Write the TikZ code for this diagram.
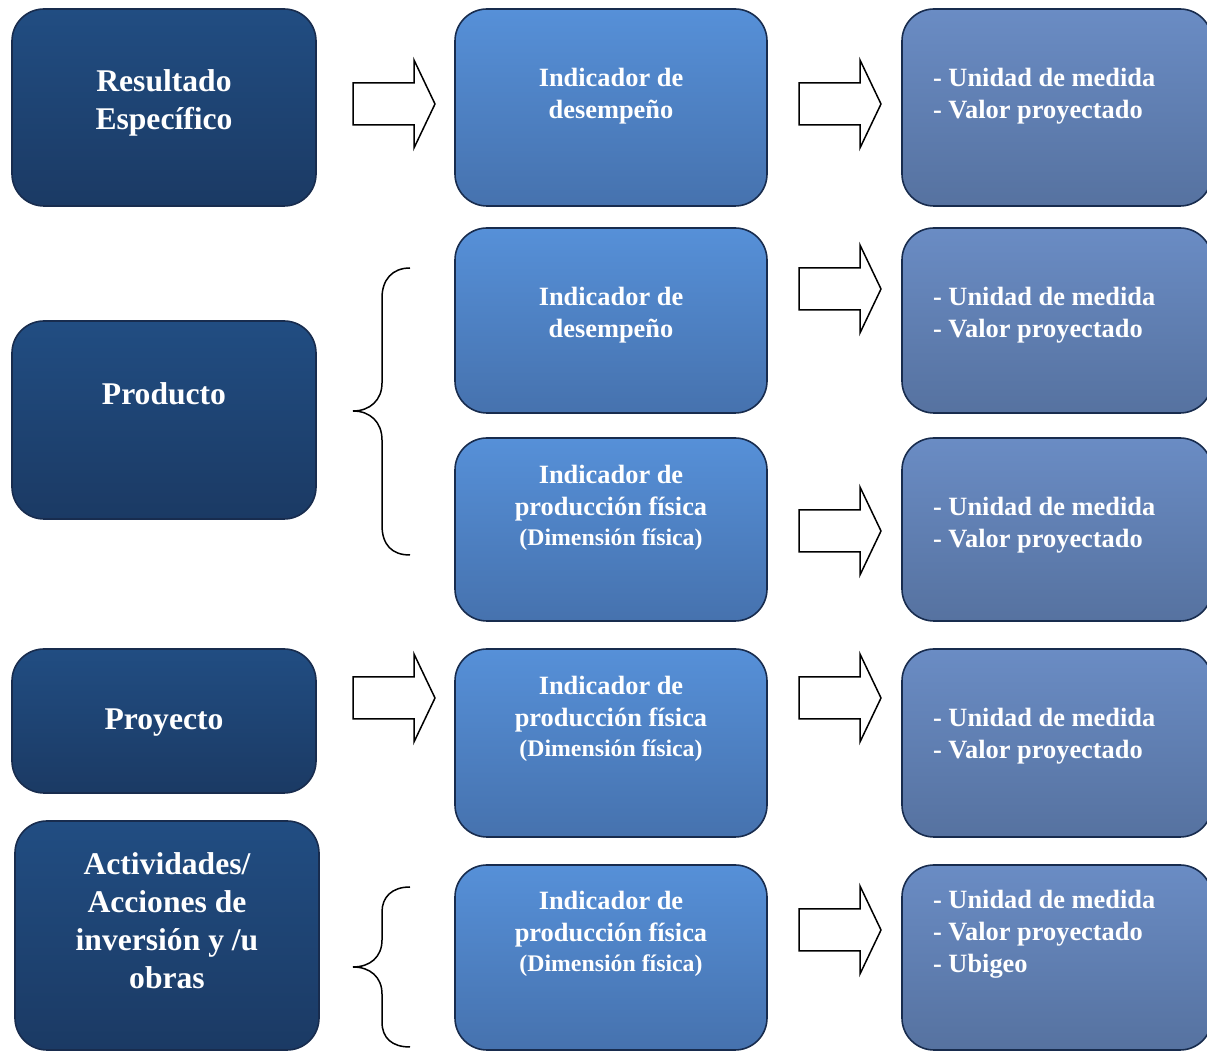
\documentclass[tikz,border=0pt]{standalone}
\usepackage{fontspec}
\setmainfont{Liberation Serif}
\definecolor{dkTop}{RGB}{33,77,130}
\definecolor{dkBot}{RGB}{27,58,100}
\definecolor{mdTop}{RGB}{86,144,216}
\definecolor{mdBot}{RGB}{70,114,174}
\definecolor{rtTop}{RGB}{106,140,196}
\definecolor{rtBot}{RGB}{86,114,160}
\definecolor{edge}{RGB}{24,44,78}
\begin{document}
\begin{tikzpicture}[x=0.5pt,y=-0.5pt,
  boxbase/.style={draw=edge, line width=0.8pt, rounded corners=16pt, inner sep=0pt},
  darkbox/.style={boxbase, top color=dkTop, bottom color=dkBot, minimum width=152pt},
  midbox/.style={boxbase, top color=mdTop, bottom color=mdBot, minimum width=156pt},
  rightbox/.style={boxbase, top color=rtTop, bottom color=rtBot, minimum width=155pt},
  bigtxt/.style={text=white, font=\fontsize{15.8pt}{19pt}\selectfont\bfseries, align=center},
  midtxt/.style={text=white, font=\fontsize{13.2pt}{16pt}\selectfont\bfseries, align=center},
  righttxt/.style={text=white, font=\fontsize{13.2pt}{16pt}\selectfont\bfseries, align=left, anchor=west},
  blockarr/.style={draw=black, fill=white, line width=0.75pt, line join=miter},
  bracestyle/.style={draw=black, line width=0.75pt}
]
\useasboundingbox (0,0) rectangle (1207,1052);
\clip (0,0) rectangle (1207,1052);
\newcommand\smalltxt[1]{{\fontsize{11.9pt}{15pt}\selectfont #1}}
\newcommand\blockarrow[1]{%
  \draw[blockarr] (#1) ++(0,-21) -- ++(61,0) -- ++(0,-23) -- ++(21,44) -- ++(-21,44) -- ++(0,-23) -- ++(-61,0) -- cycle;}

% left column
\node[darkbox, minimum height=98.5pt] (L1) at (164,107.5) {};
\node[darkbox, minimum height=99pt] (L2) at (164,420) {};
\node[darkbox, minimum height=72pt] (L3) at (164,721) {};
\node[darkbox, minimum height=114.5pt] (L4) at (167,935.5) {};
\node[bigtxt] (t1) at (164,103) {Resultado\\Específico};
\node[bigtxt] (t2) at (164,394) {Producto};
\node[bigtxt] (t3) at (164,723) {Proyecto};
\node[bigtxt] (t4) at (167,921) {Actividades/\\Acciones de\\inversión y /u\\obras};

% middle column
\node[midbox, minimum height=98.5pt] (M1) at (611,107.5) {};
\node[midbox, minimum height=92.5pt] (M2) at (611,320.5) {};
\node[midbox, minimum height=91.5pt] (M3) at (611,529.5) {};
\node[midbox, minimum height=94pt] (M4) at (611,743) {};
\node[midbox, minimum height=92.5pt] (M5) at (611,957.5) {};
\node[midtxt] (m1) at (611,96) {Indicador de\\desempeño};
\node[midtxt] (m2) at (611,315) {Indicador de\\desempeño};
\node[midtxt] (m3) at (611,508) {Indicador de\\producción física\\[-1pt]\smalltxt{(Dimensión física)}};
\node[midtxt] (m4) at (611,719) {Indicador de\\producción física\\[-1pt]\smalltxt{(Dimensión física)}};
\node[midtxt] (m5) at (611,934) {Indicador de\\producción física\\[-1pt]\smalltxt{(Dimensión física)}};

% right column
\node[rightbox, minimum height=98.5pt] (R1) at (1057,107.5) {};
\node[rightbox, minimum height=92.5pt] (R2) at (1057,320.5) {};
\node[rightbox, minimum height=91.5pt] (R3) at (1057,529.5) {};
\node[rightbox, minimum height=94pt] (R4) at (1057,743) {};
\node[rightbox, minimum height=92.5pt] (R5) at (1057,957.5) {};
\node[righttxt] (r1) at (926,96) {- Unidad de medida\\- Valor proyectado};
\node[righttxt] (r2) at (926,315) {- Unidad de medida\\- Valor proyectado};
\node[righttxt] (r3) at (926,525) {- Unidad de medida\\- Valor proyectado};
\node[righttxt] (r4) at (926,736) {- Unidad de medida\\- Valor proyectado};
\node[righttxt] (r5) at (926,934) {- Unidad de medida\\- Valor proyectado\\- Ubigeo};

% block arrows
\coordinate (a1) at (353,104);
\coordinate (a2) at (353,698);
\coordinate (b1) at (799,104);
\coordinate (b2) at (799,289);
\coordinate (b3) at (799,531);
\coordinate (b4) at (799,698);
\coordinate (b5) at (799,930);
\blockarrow{a1}
\blockarrow{a2}
\blockarrow{b1}
\blockarrow{b2}
\blockarrow{b3}
\blockarrow{b4}
\blockarrow{b5}

% braces
\draw[bracestyle] (410,268) .. controls (392,268) and (382,280) .. (382,298) -- (382,383)
  .. controls (382,400) and (370,411) .. (353,411)
  .. controls (370,411) and (382,422) .. (382,440) -- (382,525)
  .. controls (382,545) and (392,555) .. (410,555);
\draw[bracestyle] (410,887) .. controls (392,887) and (382,897) .. (382,912) -- (382,940)
  .. controls (382,957) and (370,967) .. (353,967)
  .. controls (370,967) and (382,977) .. (382,994) -- (382,1022)
  .. controls (382,1038) and (392,1047) .. (410,1047);
\end{tikzpicture}
\end{document}
